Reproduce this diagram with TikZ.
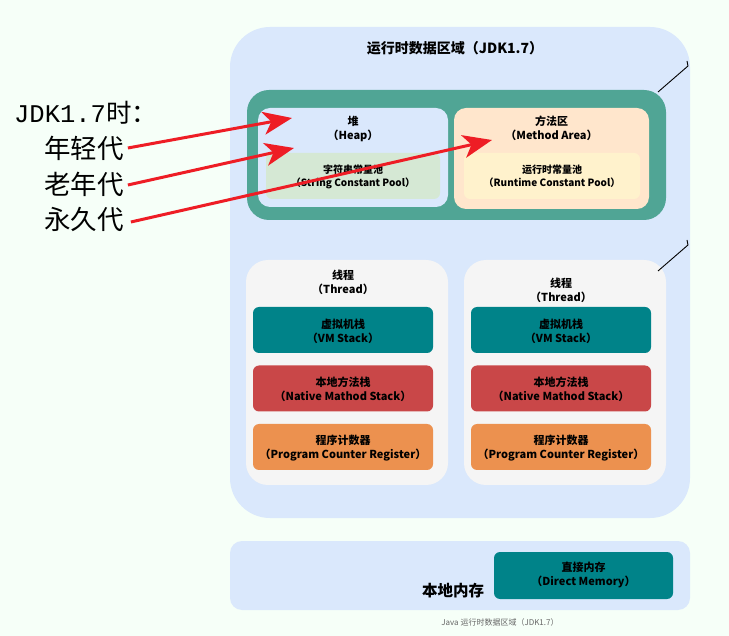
\documentclass[tikz,border=0pt]{standalone}
\usepackage{fontspec}
\setmainfont{Noto Sans CJK SC}
\newfontfamily\monolat{Liberation Mono}
\usetikzlibrary{arrows.meta}
\definecolor{bgmint}{HTML}{F6FFF8}
\definecolor{areablue}{HTML}{DAE8FC}
\definecolor{shared}{HTML}{50A595}
\definecolor{strpool}{HTML}{D5E8D4}
\definecolor{methodc}{HTML}{FFE6CC}
\definecolor{rtpool}{HTML}{FFF2CC}
\definecolor{threadc}{HTML}{F5F5F5}
\definecolor{vmc}{HTML}{008389}
\definecolor{nativec}{HTML}{C94748}
\definecolor{pcc}{HTML}{EC914F}
\definecolor{arrred}{HTML}{EE1D25}
\tikzset{
  box/.style={draw=none, rounded corners=#1, inner sep=0pt},
  box/.default=10pt,
  lbl/.style={font=\bfseries\fontsize{11}{14}\selectfont, align=center, inner sep=0pt, text=black},
  side/.style={font=\fontsize{26.5}{30}\selectfont, anchor=west, inner sep=0pt},
  redarrow/.style={draw=arrred, line width=3pt, -{Stealth[length=29pt,width=23pt,inset=8pt]}},
}
\begin{document}
\begin{tikzpicture}[x=1pt,y=-1pt]
\fill[bgmint] (0,0) rectangle (729,636);
\useasboundingbox (0,0) rectangle (729,636);
% runtime area
\node[box=40pt, fill=areablue, minimum width=460pt, minimum height=491pt] (area) at (460,272.5) {};
\node[lbl, font=\bfseries\fontsize{14}{16}\selectfont] (title) at (455,48) {运行时数据区域（JDK1.7）};
% shared region
\node[box=22pt, fill=shared, minimum width=419pt, minimum height=130pt] (sharedbox) at (456.5,155) {};
\node[box=12pt, fill=areablue, minimum width=190pt, minimum height=99pt] (heap) at (353,157.5) {};
\node[lbl] (heapt) at (353,129) {堆\\（Heap）};
\node[box=6pt, fill=strpool, minimum width=174pt, minimum height=46pt] (spool) at (353,176) {};
\node[lbl, font=\bfseries\fontsize{10}{13}\selectfont] (spoolt) at (353,176.5) {字符串常量池\\（String Constant Pool）};
\node[box=12pt, fill=methodc, minimum width=195pt, minimum height=101pt] (method) at (551.5,158.5) {};
\node[lbl] (methodt) at (551.5,128.5) {方法区\\（Method Area）};
\node[box=6pt, fill=rtpool, minimum width=176pt, minimum height=46pt] (rpool) at (552,176) {};
\node[lbl, font=\bfseries\fontsize{10}{13}\selectfont] (rpoolt) at (552,176.5) {运行时常量池\\（Runtime Constant Pool）};
% threads
\node[box=22pt, fill=threadc, minimum width=202pt, minimum height=225pt] (th1) at (347,372.5) {};
\node[lbl] (th1t) at (343,282) {线程\\（Thread）};
\node[box=22pt, fill=threadc, minimum width=202pt, minimum height=225pt] (th2) at (565,372.5) {};
\node[lbl] (th2t) at (561,290.5) {线程\\（Thread）};
\foreach \n/\cx in {1/343,2/561}{
  \node[box=6pt, fill=vmc, minimum width=180pt, minimum height=46pt] (vm\n) at (\cx,330) {};
  \node[lbl] (vm\n t) at (\cx,331) {虚拟机栈\\（VM Stack）};
  \node[box=6pt, fill=nativec, minimum width=180pt, minimum height=46pt] (nat\n) at (\cx,388.5) {};
  \node[lbl] (nat\n t) at (\cx,389.5) {本地方法栈\\（Native Mathod Stack）};
  \node[box=6pt, fill=pcc, minimum width=180pt, minimum height=46pt] (pc\n) at (\cx,447) {};
  \node[lbl] (pc\n t) at (\cx,448) {程序计数器\\（Program Counter Register）};
}
% native memory
\node[box=12pt, fill=areablue, minimum width=460pt, minimum height=69pt] (native) at (460,575.5) {};
\node[box=6pt, fill=vmc, minimum width=179pt, minimum height=47pt] (direct) at (583.5,575.5) {};
\node[lbl] (directt) at (583.5,574.5) {直接内存\\（Direct Memory）};
\node[font=\bfseries\fontsize{15.5}{18}\selectfont, inner sep=0pt] (nativet) at (453,591) {本地内存};
\node[font=\fontsize{8}{10}\selectfont, text=black!60, inner sep=0pt] (caption) at (500,622) {Java 运行时数据区域（JDK1.7）};
% small leader lines
\coordinate (l1a) at (658,92);
\coordinate (l1b) at (688,66);
\coordinate (l1c) at (687,61);
\draw[line width=0.9pt] (l1a) -- (l1b) -- (l1c);
\coordinate (l2a) at (658,271);
\coordinate (l2b) at (688,245);
\coordinate (l2c) at (687,240);
\draw[line width=0.9pt] (l2a) -- (l2b) -- (l2c);
% left labels
\node[side, font=\fontsize{25.5}{28}\selectfont] (jdk) at (14,113) {{\monolat JDK1.7}时：};
\node[side] (young) at (44,148) {年轻代};
\node[side] (old) at (44,184) {老年代};
\node[side] (perm) at (44,219) {永久代};
\coordinate (youngh) at (292,118);
\coordinate (oldh) at (294,148);
\coordinate (permh) at (492,140);
\draw[redarrow] ([xshift=4pt]young.east) -- (youngh);
\draw[redarrow] ([xshift=4pt,yshift=-1pt]old.east) -- (oldh);
\draw[redarrow] ([xshift=7pt,yshift=-3pt]perm.east) -- (permh);
\end{tikzpicture}
\end{document}
